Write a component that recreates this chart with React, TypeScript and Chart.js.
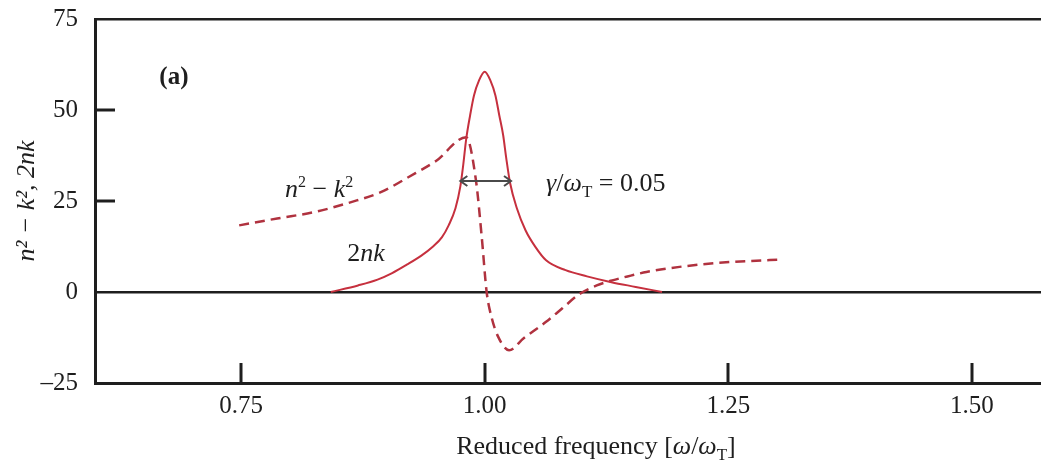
import React, { useEffect, useRef } from 'react';
import { Chart, registerables } from 'chart.js';

Chart.register(...registerables);

// 2nk (solid curve)
const imagX = [0.842, 0.87, 0.89, 0.905, 0.92, 0.935, 0.947, 0.956, 0.963, 0.97, 0.975, 0.978, 0.981, 0.985, 0.989, 0.994, 1.0, 1.006, 1.011, 1.015, 1.019, 1.022, 1.026, 1.033, 1.042, 1.052, 1.063, 1.083, 1.105, 1.13, 1.155, 1.182];
const imagY = [0, 1.8, 3.4, 5.2, 7.5, 10.0, 12.5, 15.0, 18.3, 23, 29, 35, 42, 48.5, 54, 58, 60.5, 58, 54, 48.5, 43, 37, 30, 23, 16.9, 12.4, 8.7, 6.0, 4.3, 2.7, 1.4, 0];

// n^2 - k^2 (dashed curve)
const realX = [0.748, 0.787, 0.826, 0.863, 0.894, 0.922, 0.95, 0.981, 0.991, 0.997, 1.002, 1.007, 1.014, 1.025, 1.04, 1.063, 1.08, 1.097, 1.115, 1.131, 1.15, 1.166, 1.2, 1.235, 1.27, 1.304];
const realY = [18.3, 20.2, 22.0, 24.7, 27.5, 31.6, 36.0, 42.5, 30.7, 15, 0, -6.9, -12.4, -16, -12.7, -8.2, -4.4, -0.6, 1.8, 3.2, 4.5, 5.5, 6.9, 7.9, 8.5, 8.9];

const xTickValues = [0.75, 1.0, 1.25, 1.5];
const yTickValues = [-25, 0, 25, 50, 75];
const innerYTicks = [25, 50];
const X_MIN = 0.6;
const X_MAX = 1.571;
const Y_MIN = -25;
const Y_MAX = 75;

// annotation anchors (data coordinates)
const panelLabelPos = { x: 0.666, y: 59.5 };
const realLabelPos = { x: 0.795, y: 28.5 };
const imagLabelPos = { x: 0.859, y: 10.9 };
const gammaLabelPos = { x: 1.063, y: 30.1 };
const arrowFrom = 0.975;
const arrowTo = 1.027;
const arrowY = 30.5;

const FONT = "'Liberation Serif', 'DejaVu Serif', serif";
const INK = '#1e1e1e';

type Seg = { t: string; italic?: boolean; bold?: boolean; size?: number; dy?: number };

function drawSegs(ctx: CanvasRenderingContext2D, segs: Seg[], x: number, y: number, base: number, align: 'left' | 'center' = 'left') {
  const fonts = segs.map(s => `${s.italic ? 'italic ' : ''}${s.bold ? 'bold ' : ''}${s.size ?? base}px ${FONT}`);
  let total = 0;
  segs.forEach((s, i) => { ctx.font = fonts[i]; total += ctx.measureText(s.t).width; });
  let cx = align === 'center' ? x - total / 2 : x;
  ctx.textAlign = 'left';
  ctx.textBaseline = 'alphabetic';
  segs.forEach((s, i) => {
    ctx.font = fonts[i];
    ctx.fillText(s.t, cx, y + (s.dy ?? 0));
    cx += ctx.measureText(s.t).width;
  });
}

const decorPlugin = {
  id: 'decor',
  afterDatasetsDraw(chart: any) {
    const { ctx, chartArea, scales } = chart;
    const xs = scales.x;
    const ys = scales.y;
    ctx.save();
    ctx.strokeStyle = INK;
    ctx.fillStyle = INK;
    // inner tick marks
    ctx.lineWidth = 3;
    xTickValues.forEach(v => {
      const px = Math.round(xs.getPixelForValue(v));
      ctx.beginPath();
      ctx.moveTo(px, chartArea.bottom);
      ctx.lineTo(px, chartArea.bottom - 20);
      ctx.stroke();
    });
    innerYTicks.forEach(v => {
      const py = Math.round(ys.getPixelForValue(v));
      ctx.beginPath();
      ctx.moveTo(chartArea.left, py);
      ctx.lineTo(chartArea.left + 20, py);
      ctx.stroke();
    });

    const base = 26;
    const bl = (v: number, size: number) => ys.getPixelForValue(v) + size * 0.34;

    // (a)
    drawSegs(ctx, [{ t: '(a)', bold: true }], xs.getPixelForValue(panelLabelPos.x), bl(panelLabelPos.y, 25), 25);
    // n^2 - k^2
    drawSegs(ctx, [
      { t: 'n', italic: true },
      { t: '2', size: 16, dy: -10 },
      { t: ' \u2212 ' },
      { t: 'k', italic: true },
      { t: '2', size: 16, dy: -10 },
    ], xs.getPixelForValue(realLabelPos.x), bl(realLabelPos.y, base), base);
    // 2nk
    drawSegs(ctx, [
      { t: '2' },
      { t: 'nk', italic: true },
    ], xs.getPixelForValue(imagLabelPos.x), bl(imagLabelPos.y, base), base);
    // gamma / omega_T = 0.05
    drawSegs(ctx, [
      { t: '\u03b3', italic: true },
      { t: '/' },
      { t: '\u03c9', italic: true },
      { t: 'T', size: 17, dy: 6 },
      { t: ' = 0.05' },
    ], xs.getPixelForValue(gammaLabelPos.x), bl(gammaLabelPos.y, base), base);

    // double-headed arrow
    const ax1 = xs.getPixelForValue(arrowFrom);
    const ax2 = xs.getPixelForValue(arrowTo);
    const ay = ys.getPixelForValue(arrowY);
    ctx.strokeStyle = '#4a4a4a';
    ctx.lineWidth = 2;
    ctx.beginPath();
    ctx.moveTo(ax1, ay);
    ctx.lineTo(ax2, ay);
    ctx.moveTo(ax1 + 7, ay - 5);
    ctx.lineTo(ax1, ay);
    ctx.lineTo(ax1 + 7, ay + 5);
    ctx.moveTo(ax2 - 7, ay - 5);
    ctx.lineTo(ax2, ay);
    ctx.lineTo(ax2 - 7, ay + 5);
    ctx.stroke();

    // x-axis title
    ctx.fillStyle = INK;
    drawSegs(ctx, [
      { t: 'Reduced frequency [' },
      { t: '\u03c9', italic: true },
      { t: '/' },
      { t: '\u03c9', italic: true },
      { t: 'T', size: 17, dy: 6 },
      { t: ']' },
    ], 596, 454, base, 'center');
    ctx.restore();
  },
};

export default function App() {
  const ref = useRef<HTMLCanvasElement | null>(null);
  useEffect(() => {
    if (!ref.current) return;
    const chart = new Chart(ref.current, {
      type: 'line',
      data: {
        datasets: [
          {
            label: '2nk',
            data: imagX.map((x, i) => ({ x, y: imagY[i] })),
            borderColor: '#c6303e',
            borderWidth: 2,
            pointRadius: 0,
            cubicInterpolationMode: 'monotone',
            fill: false,
          },
          {
            label: 'n² − k²',
            data: realX.map((x, i) => ({ x, y: realY[i] })),
            borderColor: '#b0323f',
            borderWidth: 2.5,
            borderDash: [10, 6],
            pointRadius: 0,
            cubicInterpolationMode: 'monotone',
            fill: false,
          },
        ],
      },
      options: {
        responsive: false,
        animation: false,
        devicePixelRatio: 1,
        layout: { padding: { top: 19, right: 0, bottom: 0, left: 0 } },
        plugins: { legend: { display: false }, tooltip: { enabled: false } },
        scales: {
          x: {
            type: 'linear',
            min: X_MIN,
            max: X_MAX,
            afterBuildTicks: (s: any) => { s.ticks = xTickValues.map(v => ({ value: v })); },
            afterFit: (s: any) => { s.height = 82; s.paddingLeft = 0; s.paddingRight = 0; },
            grid: { display: false, drawTicks: false },
            border: { display: true, color: INK, width: 3 },
            ticks: {
              padding: 8,
              color: INK,
              font: { family: FONT, size: 25 },
              maxRotation: 0,
              callback: (v: any) => Number(v).toFixed(2),
            },
            title: { display: false },
          },
          y: {
            type: 'linear',
            min: Y_MIN,
            max: Y_MAX,
            afterBuildTicks: (s: any) => { s.ticks = yTickValues.map(v => ({ value: v })); },
            afterFit: (s: any) => { s.width = 95; s.paddingTop = 0; s.paddingBottom = 0; },
            grid: {
              drawTicks: false,
              lineWidth: 2.5,
              color: (c: any) => (c.tick && (c.tick.value === 0 || c.tick.value === 75) ? INK : 'rgba(0,0,0,0)'),
            },
            border: { display: true, color: INK, width: 3 },
            ticks: {
              padding: 17,
              color: INK,
              font: { family: FONT, size: 25 },
              callback: (v: any) => (Number(v) < 0 ? '\u2013' + Math.abs(Number(v)) : String(v)),
            },
            title: {
              display: true,
              text: 'n\u00b2 \u2212 k\u00b2, 2nk',
              color: INK,
              font: { family: FONT, size: 26, style: 'italic' },
              padding: { top: 12, bottom: 0 },
            },
          },
        },
      },
      plugins: [decorPlugin],
    } as any);
    return () => chart.destroy();
  }, []);
  return (
    <div style={{ position: 'absolute', left: 0, top: 0, width: 1041, height: 465, background: '#fff' }}>
      <canvas ref={ref} width={1041} height={465} style={{ display: 'block' }} />
    </div>
  );
}
